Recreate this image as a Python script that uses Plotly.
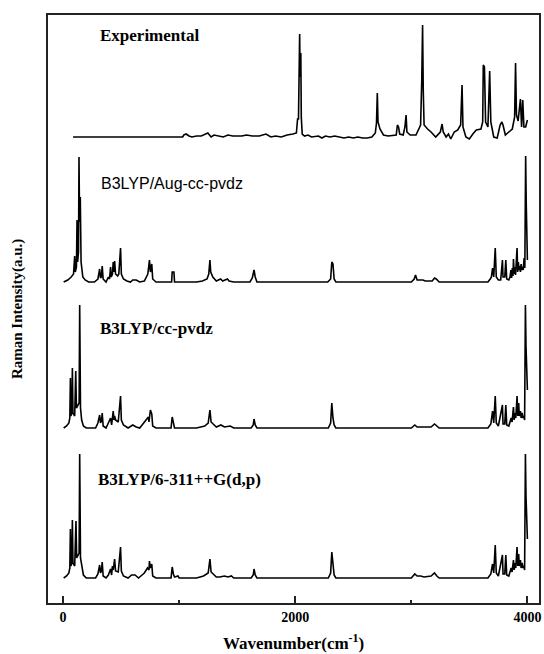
import plotly.graph_objects as go

# ---------------- data (wavenumber in cm^-1, relative Raman intensity) ----------------
exp_wn = [86, 1030, 1040, 1060, 1085, 1110, 1150, 1190, 1247, 1275, 1300, 1340, 1380, 1420, 1462,
          1500, 1540, 1580, 1630, 1690, 1748, 1790, 1830, 1880, 1930, 1980, 2010, 2020, 2028, 2038,
          2042, 2048, 2052, 2060, 2080, 2110, 2140, 2200, 2230, 2260, 2300, 2340, 2380, 2420, 2460,
          2500, 2540, 2580, 2620, 2660, 2690, 2700, 2707, 2713, 2730, 2760, 2800, 2840, 2870, 2880,
          2890, 2900, 2930, 2945, 2955, 2962, 2990, 3040, 3060, 3080, 3090, 3097, 3103, 3110, 3140,
          3170, 3210, 3250, 3265, 3275, 3300, 3320, 3340, 3370, 3400, 3425, 3437, 3445, 3470, 3500,
          3530, 3560, 3600, 3615, 3620, 3630, 3640, 3660, 3675, 3685, 3710, 3740, 3765, 3780, 3790,
          3810, 3840, 3870, 3890, 3898, 3906, 3920, 3940, 3950, 3960, 3970, 3985, 4000]
exp_int = [0, 0, 2, 3, 1, 0, 1, 1, 4, 0, 2, 1, 0, 2, 1,
           1, 1, 2, 1, 1, 3, 0, 1, 0, 2, 3, 4, 18, 18, 103,
           60, 84, 20, 3, 1, 2, 0, 1, -1, 1, 0, 1, 0, -1, 0,
           -1, 0, -1, -1, 0, 4, 14, 44, 15, 8, 2, 1, 2, 2, 12,
           10, 3, 2, 10, 22, 5, 2, 2, 8, 12, 57, 112, 46, 12, 8,
           5, 0, 5, 13, 5, 0, 3, -2, 5, 7, 12, 52, 10, 0, -2,
           3, 7, 8, 15, 72, 70, 15, 10, 66, 15, 0, -1, 12, 15, 12,
           2, 5, 8, 20, 74, 22, 16, 38, 10, 37, 10, 10, 17]

aug_wn = [5, 40, 70, 90, 100, 105, 115, 120, 125, 133, 137, 142, 148, 155, 170, 190, 220, 270, 300,
          315, 322, 330, 337, 345, 370, 390, 400, 409, 415, 425, 432, 438, 444, 452, 470, 480, 495,
          502, 520, 550, 580, 600, 630, 660, 700, 730, 744, 752, 764, 772, 800, 935, 940, 955, 960,
          1150, 1200, 1240, 1255, 1265, 1272, 1290, 1320, 1340, 1357, 1375, 1400, 1416, 1430, 1470,
          1610, 1630, 1645, 1655, 1670, 2280, 2305, 2315, 2325, 2335, 2350, 3000, 3025, 3036, 3050,
          3080, 3100, 3120, 3180, 3200, 3215, 3240, 3660, 3680, 3690, 3700, 3710, 3723, 3732, 3750,
          3770, 3785, 3790, 3805, 3814, 3822, 3840, 3850, 3858, 3864, 3870, 3876, 3880, 3886, 3892,
          3898, 3905, 3911, 3916, 3922, 3928, 3934, 3940, 3946, 3952, 3958, 3964, 3972, 3978, 3985,
          3990, 3996, 4000]
aug_int = [0, 2, 5, 8, 26, 10, 15, 62, 20, 30, 125, 60, 85, 20, 5, 2, 0, 0, 3,
           13, 4, 5, 16, 3, 0, 5, 3, 15, 5, 8, 20, 10, 21, 8, 6, 8, 34,
           8, 3, 1, 0, 2, 2, 0, 1, 8, 22, 10, 18, 3, 0, 0, 10, 10, 0,
           0, 1, 3, 8, 22, 10, 5, 1, 2, 3, 1, 2, 3, 1, 0,
           0, 4, 12, 5, 0, 0, 3, 20, 18, 3, 0, 0, 3, 7, 2,
           2, 2, 1, 1, 4, 3, 0, 0, 3, 5, 14, 5, 34, 5, 2,
           2, 22, 5, 5, 22, 3, 2, 5, 12, 4, 14, 6, 23, 8, 15,
           7, 20, 34, 10, 20, 12, 16, 10, 18, 12, 15, 12, 24, 14, 126,
           79, 50, 22]

cc_wn = [5, 30, 50, 58, 63, 67, 75, 80, 85, 100, 109, 115, 138, 143, 150, 160, 175, 200, 280, 300,
         315, 322, 330, 337, 345, 370, 390, 409, 418, 432, 438, 444, 452, 475, 495, 502, 520, 560,
         600, 630, 660, 700, 735, 740, 752, 764, 772, 800, 930, 940, 950, 960, 1150, 1220, 1250,
         1265, 1275, 1290, 1320, 1360, 1390, 1440, 1470, 1620, 1638, 1645, 1655, 1670, 2285, 2305,
         2315, 2325, 2335, 2350, 3000, 3030, 3050, 3080, 3110, 3170, 3200, 3220, 3240, 3660, 3685,
         3700, 3710, 3723, 3732, 3750, 3785, 3790, 3805, 3814, 3822, 3840, 3850, 3860, 3868, 3880,
         3886, 3892, 3900, 3911, 3917, 3925, 3930, 3940, 3946, 3955, 3962, 3970, 3976, 3983, 3988,
         3994, 4000]
cc_int = [0, 2, 5, 10, 50, 12, 15, 60, 15, 12, 57, 20, 25, 123, 20, 8, 2, 0, 0, 5,
          13, 5, 7, 15, 2, 0, 5, 10, 3, 17, 8, 12, 8, 6, 32, 8, 3, 0,
          3, 1, 0, 6, 11, 6, 18, 14, 2, 0, 0, 11, 4, 0, 0, 2, 5,
          18, 6, 4, 1, 3, 1, 2, 0, 0, 3, 9, 3, 0, 0, 5,
          25, 10, 3, 0, 0, 3, 1, 1, 1, 1, 4, 2, 0, 0, 4,
          17, 5, 32, 5, 2, 23, 4, 4, 23, 3, 2, 5, 10, 6, 21,
          8, 15, 10, 32, 12, 25, 12, 17, 10, 15, 10, 12, 8, 123, 82,
          60, 38]

g_wn = [5, 30, 50, 58, 63, 67, 75, 80, 85, 100, 111, 117, 138, 143, 150, 160, 175, 200, 280, 300,
        315, 322, 330, 337, 345, 370, 390, 409, 418, 425, 432, 444, 452, 475, 495, 502, 520, 560,
        590, 620, 650, 700, 727, 740, 744, 752, 764, 772, 800, 930, 940, 950, 960, 990, 1000, 1150,
        1210, 1250, 1265, 1275, 1290, 1320, 1350, 1390, 1420, 1450, 1470, 1620, 1638, 1645, 1655,
        1670, 2285, 2305, 2315, 2325, 2335, 2350, 3000, 3030, 3050, 3080, 3110, 3170, 3200, 3220,
        3240, 3660, 3685, 3700, 3710, 3723, 3732, 3750, 3785, 3790, 3805, 3814, 3822, 3840, 3850,
        3860, 3868, 3880, 3886, 3892, 3900, 3911, 3917, 3925, 3930, 3940, 3946, 3955, 3962, 3970,
        3976, 3983, 3988, 3994, 4000]
g_int = [0, 2, 5, 10, 49, 12, 15, 58, 15, 12, 57, 20, 25, 124, 20, 12, 3, 0, 0, 4,
         13, 5, 7, 16, 2, 0, 3, 9, 3, 12, 8, 19, 7, 6, 31, 7, 2, 0,
         3, 3, 0, 5, 10, 8, 17, 10, 14, 2, 0, 0, 11, 4, 1, 2, 0, 0,
         2, 5, 19, 6, 4, 1, 1, 2, 1, 2, 0, 0, 3, 9, 3,
         0, 0, 5, 26, 10, 3, 0, 0, 4, 2, 2, 1, 2, 5, 2,
         0, 0, 4, 14, 5, 33, 5, 2, 23, 4, 4, 23, 3, 2, 5,
         10, 6, 18, 8, 15, 10, 31, 12, 24, 12, 18, 10, 15, 10, 12,
         8, 124, 82, 60, 39]

labels = ["Experimental", "B3LYP/Aug-cc-pvdz", "B3LYP/cc-pvdz", "B3LYP/6-311++G(d,p)"]
x_ticks = [0, 2000, 4000]
x_minor = [1000, 3000]

# vertical stacking offsets of each spectrum (same units as intensity)
offsets = [466, 321, 175, 25]

series = [(exp_wn, exp_int), (aug_wn, aug_int), (cc_wn, cc_int), (g_wn, g_int)]

fig = go.Figure()
for (wn, inten), off, name in zip(series, offsets, labels):
    fig.add_trace(go.Scatter(
        x=wn, y=[v + off for v in inten], mode="lines", name=name,
        line=dict(color="black", width=1.6), showlegend=False, hoverinfo="skip"))

label_pos = [(300, 568), (309, 420), (300, 275), (283, 124)]
label_fonts = [
    dict(family="Liberation Serif", size=17, color="black", weight="bold"),
    dict(family="Liberation Sans", size=16, color="black"),
    dict(family="Liberation Serif", size=17, color="black", weight="bold"),
    dict(family="Liberation Serif", size=17, color="black", weight="bold"),
]
for txt, (lx, ly), fnt in zip(labels, label_pos, label_fonts):
    fig.add_annotation(x=lx, y=ly, xref="x", yref="y", text=txt, showarrow=False,
                       xanchor="left", yanchor="middle", font=fnt)

fig.add_annotation(x=-0.063, y=0.5, xref="paper", yref="paper",
                   text="Raman Intensity(a.u.)", textangle=-90, showarrow=False,
                   xanchor="center", yanchor="middle",
                   font=dict(family="Liberation Serif", size=15, color="black", weight="bold"))
fig.add_annotation(x=0.5, y=-0.066, xref="paper", yref="paper",
                   text="Wavenumber(cm<sup>-1</sup>)", showarrow=False,
                   xanchor="center", yanchor="middle",
                   font=dict(family="Liberation Serif", size=17, color="black", weight="bold"))

fig.update_layout(
    width=544, height=654,
    margin=dict(l=48, r=3, t=15, b=51),
    paper_bgcolor="white", plot_bgcolor="white",
    xaxis=dict(range=[-130, 4100], tickvals=x_ticks, ticktext=[str(t) for t in x_ticks],
               ticks="inside", ticklen=7, tickwidth=1.5, tickcolor="#222",
               minor=dict(tickvals=x_minor, ticks="inside", ticklen=3, tickwidth=1.5, tickcolor="#222"),
               showgrid=False, zeroline=False, showline=True, mirror=True,
               linecolor="#222", linewidth=2,
               tickfont=dict(family="Liberation Serif", size=14, color="black", weight="bold")),
    yaxis=dict(range=[0, 588], showticklabels=False, ticks="", showgrid=False, zeroline=False,
               showline=True, mirror=True, linecolor="#222", linewidth=2),
)

fig.write_html("out.html", config={"displayModeBar": False},
               post_script="document.body.style.margin='0';")
